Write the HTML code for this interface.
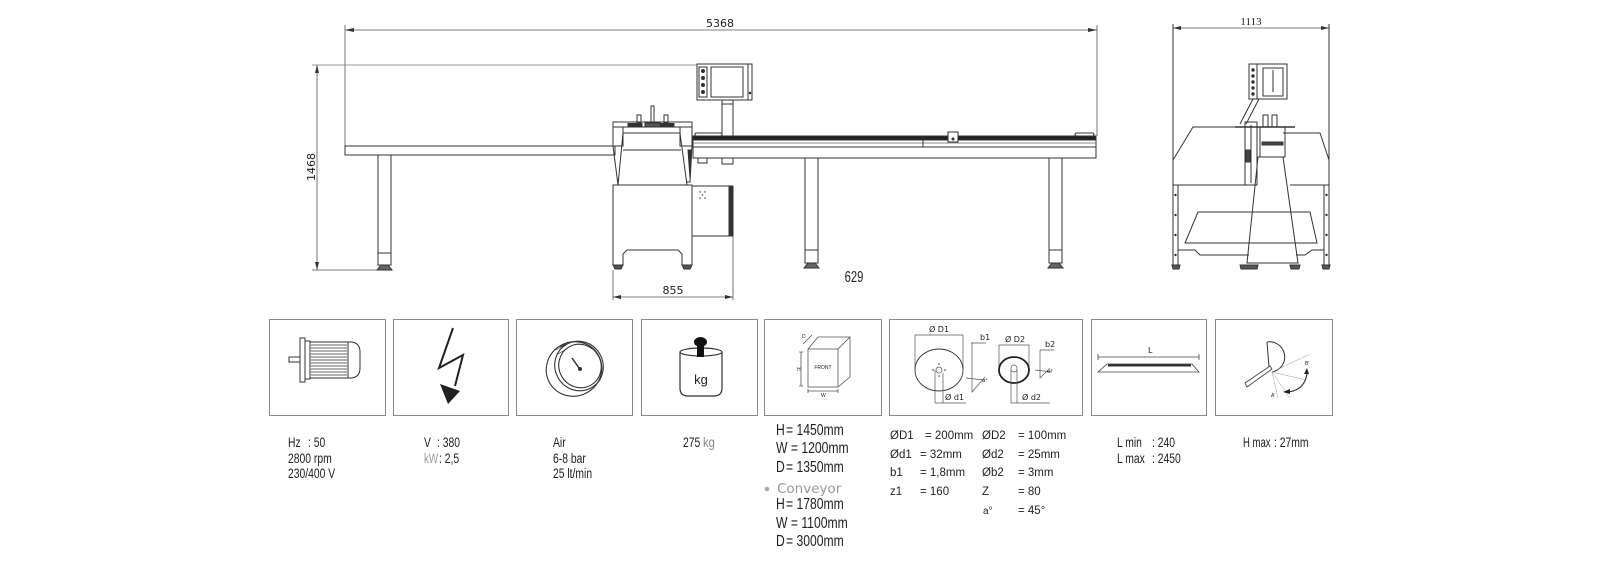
<!DOCTYPE html>
<html><head><meta charset="utf-8"><style>
html,body{margin:0;padding:0;background:#fff;}
svg{display:block;}
text{font-family:"Liberation Sans",sans-serif;fill:#222;}
.dj{font-family:"DejaVu Sans","Liberation Sans",sans-serif;}
</style></head><body>
<svg width="1600" height="576" viewBox="0 0 1600 576" xmlns="http://www.w3.org/2000/svg">
<rect width="1600" height="576" fill="#fff"/>
<g stroke="#333" stroke-width="1" fill="none">
<!-- 5368 dimension -->
<line x1="345" y1="30" x2="1097" y2="30" stroke="#555" stroke-width=".8"/>
<line x1="345" y1="25" x2="345" y2="147" stroke="#555" stroke-width=".8"/>
<line x1="1097" y1="25" x2="1097" y2="136" stroke="#555" stroke-width=".8"/>
<path d="M345,30 l9,-2 v4z M1097,30 l-9,-2 v4z" fill="#333" stroke="none"/>
<!-- 1468 dimension -->
<line x1="317" y1="65" x2="317" y2="270" stroke="#555" stroke-width=".8"/>
<line x1="312" y1="65" x2="697" y2="65" stroke="#777" stroke-width=".7"/>
<line x1="312" y1="270" x2="380" y2="270" stroke="#555" stroke-width=".8"/>
<path d="M317,65 l-2,8 h4z M317,270 l-2,-8 h4z" fill="#333" stroke="none"/>

<!-- left table -->
<rect x="345" y="146" width="270" height="9"/>
<rect x="378" y="155" width="13" height="110"/>
<line x1="378" y1="253" x2="391" y2="253"/>
<path d="M381,265 h7 l4,5 h-15z" fill="#666"/>

<!-- machine front -->
<rect x="613" y="122" width="79" height="5"/>
<rect x="613" y="127" width="10" height="19"/>
<rect x="680" y="127" width="12" height="19"/>
<path d="M623,133 L680,133 L687,185 L618,185 Z"/>
<line x1="623" y1="150" x2="681" y2="150"/>
<path d="M681,146 L692,146 L690,182 L686,182" />
<path d="M688,150 L691,150 L690,178 Z" fill="#333"/>
<path d="M613,146 L618,185"/>
<path d="M613,185 V265 H623 V254 L627,250 H678 L682,254 V265 H692 V185 Z"/>
<path d="M613,265 h10 l-2,4 h-6z M682,265 h10 l-2,4 h-6z" fill="#555"/>
<rect x="637" y="115" width="4" height="8"/>
<rect x="664" y="115" width="4" height="8"/>
<rect x="651" y="106" width="3" height="17"/>
<rect x="628" y="123.5" width="14" height="3" fill="#333"/>
<rect x="660" y="123.5" width="14" height="3" fill="#333"/>
<rect x="645" y="123" width="15" height="4" fill="#555"/>
<!-- motor box -->
<rect x="692" y="186" width="41" height="50"/>
<rect x="729" y="187" width="3" height="49" fill="#333"/>
<g fill="#333" stroke="none"><circle cx="700" cy="192" r=".7"/><circle cx="705" cy="192" r=".7"/><circle cx="702.5" cy="195" r=".7"/><circle cx="700" cy="198" r=".7"/><circle cx="705" cy="198" r=".7"/></g>
<!-- control panel -->
<rect x="697" y="64" width="55" height="36"/>
<rect x="711" y="67" width="32" height="30"/>
<rect x="699" y="67" width="8" height="30"/>
<g fill="#333"><circle cx="703" cy="71" r="1.5"/><circle cx="703" cy="78" r="1.5"/><circle cx="703" cy="85" r="1.5"/><circle cx="703" cy="92" r="1.5"/></g>
<line x1="748" y1="64" x2="748" y2="100"/>
<circle cx="750" cy="93" r=".8" fill="#333"/>
<rect x="722" y="100" width="11" height="37"/>
<line x1="722" y1="104" x2="733" y2="104"/>
<!-- conveyor -->
<rect x="693" y="136" width="403" height="4" fill="#222"/>
<rect x="693" y="140" width="403" height="18"/>
<line x1="693" y1="143" x2="1096" y2="143" stroke="#888"/>
<line x1="693" y1="147" x2="1096" y2="147"/>
<rect x="695" y="133" width="27" height="3" rx="1.5"/>
<rect x="1075" y="133" width="19" height="3" rx="1.5"/>
<rect x="948" y="132" width="10" height="10" fill="#fff"/>
<circle cx="953" cy="139" r="1" fill="#333"/>
<line x1="923" y1="136" x2="923" y2="147"/>
<rect x="698" y="158" width="9" height="5"/>
<rect x="722" y="158" width="11" height="6"/>
<rect x="805" y="158" width="13" height="105"/>
<line x1="805" y1="250" x2="818" y2="250"/>
<path d="M808,263 h7 l4,5 h-15z" fill="#666"/>
<rect x="1049" y="158" width="13" height="105"/>
<line x1="1049" y1="250" x2="1062" y2="250"/>
<path d="M1052,263 h7 l4,5 h-15z" fill="#666"/>
<!-- 855 dimension -->
<line x1="613" y1="297" x2="733" y2="297" stroke="#555" stroke-width=".8"/>
<line x1="613" y1="270" x2="613" y2="300" stroke="#555" stroke-width=".8"/>
<line x1="733" y1="236" x2="733" y2="300" stroke="#555" stroke-width=".8"/>
<path d="M613,297 l8,-2 v4z M733,297 l-8,-2 v4z" fill="#333" stroke="none"/>

<!-- side view -->
<line x1="1173" y1="28" x2="1329" y2="28" stroke="#555" stroke-width=".8"/>
<path d="M1173,28 l8,-2 v4z M1329,28 l-8,-2 v4z" fill="#333" stroke="none"/>
<line x1="1173" y1="24" x2="1173" y2="185"/>
<line x1="1329" y1="24" x2="1329" y2="185"/>
<path d="M1173,185 V160 L1193,127 H1245"/>
<path d="M1283,133 H1320 L1329,160 V185"/>
<line x1="1173" y1="185" x2="1247" y2="185"/>
<line x1="1290" y1="185" x2="1329" y2="185"/>
<rect x="1173" y="185" width="5" height="80"/>
<rect x="1324" y="185" width="5" height="80"/>
<g fill="#333" stroke="none"><circle cx="1175.5" cy="195" r="1.2"/><circle cx="1175.5" cy="215" r="1.2"/><circle cx="1175.5" cy="235" r="1.2"/><circle cx="1175.5" cy="255" r="1.2"/><circle cx="1326.5" cy="195" r="1.2"/><circle cx="1326.5" cy="215" r="1.2"/><circle cx="1326.5" cy="235" r="1.2"/><circle cx="1326.5" cy="255" r="1.2"/></g>
<path d="M1198,212 H1310 L1317,243 H1185 Z"/>
<path d="M1178,250 H1195 L1200,255 H1249"/>
<path d="M1296,255 H1305 L1312,250 H1324"/>
<path d="M1258,157 H1283 L1298,263 H1247 Z"/>
<rect x="1245" y="122" width="12" height="63"/>
<line x1="1251" y1="125" x2="1251" y2="183"/>
<rect x="1246" y="150" width="4" height="12" fill="#444"/>
<rect x="1249" y="64" width="38" height="35"/>
<line x1="1257" y1="64" x2="1257" y2="99"/>
<rect x="1263" y="68" width="20" height="28"/>
<line x1="1273" y1="70" x2="1273" y2="92"/>
<g fill="#333"><circle cx="1253" cy="70" r="1.2"/><circle cx="1253" cy="76" r="1.2"/><circle cx="1253" cy="82" r="1.2"/><circle cx="1253" cy="88" r="1.2"/><circle cx="1253" cy="94" r="1.2"/></g>
<path d="M1253,99 L1240,124 M1259,99 L1246,124"/>
<rect x="1263" y="115" width="5" height="12"/>
<rect x="1272" y="115" width="5" height="12"/>
<line x1="1235" y1="127" x2="1295" y2="127" stroke-width="1.5"/>
<rect x="1260" y="127" width="25" height="30"/>
<rect x="1262" y="142" width="21" height="3" fill="#444"/>
<path d="M1172,265 h8 l-1,4 h-6z M1240,265 h18 l-1,4 h-16z M1290,265 h10 l-1,4 h-8z M1322,265 h8 l-1,4 h-6z" fill="#555"/>
</g>

<!-- dimension labels -->
<text class="dj" x="720" y="27" font-size="11" text-anchor="middle">5368</text>
<text class="dj" transform="translate(315,167) rotate(-90)" font-size="11" text-anchor="middle">1468</text>
<text class="dj" x="673" y="294" font-size="11" text-anchor="middle">855</text>
<text transform="matrix(.7 0 0 1 854 282)" font-size="16" text-anchor="middle">629</text>
<text x="1251" y="25" font-size="11" text-anchor="middle" style="font-family:'Liberation Serif',serif">1113</text>

<!-- spec boxes -->
<g fill="none" stroke="#8a8a8a" stroke-width="1">
<rect x="269.5" y="319.5" width="116" height="96"/>
<rect x="393.5" y="319.5" width="115" height="96"/>
<rect x="516.5" y="319.5" width="116" height="96"/>
<rect x="641.5" y="319.5" width="116" height="96"/>
<rect x="764.5" y="319.5" width="117" height="96"/>
<rect x="889.5" y="319.5" width="193" height="96"/>
<rect x="1091.5" y="319.5" width="115" height="96"/>
<rect x="1215.5" y="319.5" width="117" height="96"/>
</g>

<!-- motor icon -->
<g stroke="#333" stroke-width="1" fill="none">
<rect x="289" y="357" width="11" height="5"/>
<rect x="300" y="338" width="5" height="44"/>
<rect x="305" y="341" width="5" height="38"/>
<path d="M310,342 H350 Q360,342 360,352 V368 Q360,378 350,378 H310 Z"/>
<line x1="348" y1="342" x2="348" y2="378"/>
<path d="M311,345 H347 M311,348 H347 M311,351 H347 M311,354 H347 M311,357 H347 M311,360 H347 M311,363 H347 M311,366 H347 M311,369 H347 M311,372 H347 M311,375 H347" stroke-width=".8"/>
</g>
<!-- lightning -->
<polyline points="453,328 439,368 463,355 455,386" fill="none" stroke="#222" stroke-width="2"/>
<polygon points="440,384 460,391 448,404" fill="#222"/>
<!-- gauge -->
<g fill="none" stroke="#333" stroke-width="1.1">
<ellipse cx="574" cy="369" rx="28" ry="27" transform="rotate(-30 574 369)"/>
<ellipse cx="579" cy="366" rx="24" ry="25" transform="rotate(-30 579 366)"/>
<ellipse cx="580" cy="366" rx="21" ry="22" transform="rotate(-30 580 366)"/>
<path d="M556,350 l10,-6 M558,354 l10,-6 M560,347 l8,-5" stroke-width=".7"/>
<line x1="572" y1="358" x2="579" y2="368" stroke-width="1.5"/>
</g>
<circle cx="580" cy="369" r="2" fill="#333"/>
<!-- kg weight -->
<path d="M680,352 V388 Q680,396 688,396 H714 Q722,396 722,388 V352" fill="none" stroke="#333" stroke-width="1.2"/>
<ellipse cx="701" cy="352" rx="21" ry="4" fill="none" stroke="#333" stroke-width="1.2"/>
<ellipse cx="700.5" cy="342" rx="6.5" ry="5" fill="#111"/>
<rect x="697" y="344" width="7" height="13" fill="#111"/>
<text x="701" y="384" font-size="13" text-anchor="middle">kg</text>
<!-- cube -->
<g fill="none" stroke="#555" stroke-width=".8">
<rect x="808" y="349" width="30" height="38"/>
<path d="M808,349 L818,337 H850 L838,349 M838,387 L850,377 V337"/>
<path d="M801,352 V386 M799,352 h4 M799,386 h4 M808,391 H838 M808,389 v4 M838,389 v4 M803,344 l9,-9"/>
</g>
<text x="823" y="369" font-size="5" text-anchor="middle" fill="#555">FRONT</text>
<text x="797" y="371" font-size="5" fill="#555">H</text>
<text x="821" y="397" font-size="5" fill="#555">W</text>
<text x="802" y="338" font-size="5" fill="#555">D</text>
<!-- saw blades -->
<g fill="none" stroke="#555" stroke-width=".7">
<line x1="915" y1="335" x2="963" y2="335"/>
<line x1="915" y1="335" x2="915" y2="369"/>
<line x1="963" y1="335" x2="963" y2="369"/>
<ellipse cx="939" cy="370" rx="24" ry="21" stroke="#333" stroke-width=".9"/>
<circle cx="939" cy="370" r="3"/>
<path d="M935,370 V403 M943,373 V403 M935,403 H966"/>
<path d="M971,343 H986 M972,343 V392 L985,377 M966,378 L984,380"/>
<line x1="999" y1="345" x2="1029" y2="345"/>
<line x1="999" y1="345" x2="999" y2="370"/>
<line x1="1029" y1="345" x2="1029" y2="370"/>
<ellipse cx="1014" cy="370" rx="15" ry="13" stroke="#222" stroke-width="1.8"/>
<rect x="1011" y="365" width="6" height="7" rx="3"/>
<path d="M1011,370 V403 M1017,370 V403 M1011,403 H1050"/>
<path d="M1040,350 H1054 M1040,350 V378 L1050,368 M1035,370 L1052,372"/>
</g>
<g fill="#333"><circle cx="933" cy="370" r=".8"/><circle cx="945" cy="370" r=".8"/><circle cx="939" cy="364" r=".8"/><circle cx="939" cy="376" r=".8"/></g>
<g class="dj" font-size="8" fill="#333">
<text x="939" y="332" text-anchor="middle" class="dj">Ø D1</text>
<text x="980" y="340" class="dj">b1</text>
<text x="945" y="400" class="dj">Ø d1</text>
<text x="1015" y="342" text-anchor="middle" class="dj">Ø D2</text>
<text x="1045" y="347" class="dj">b2</text>
<text x="1022" y="400" class="dj">Ø d2</text>
<text x="982" y="382" font-size="5" class="dj">α°</text>
<text x="1047" y="373" font-size="5" class="dj">α°</text>
</g>
<!-- length profile -->
<g stroke="#444" stroke-width=".8" fill="none">
<line x1="1098" y1="357" x2="1199" y2="357"/>
<path d="M1098,354 v6 M1199,354 v6"/>
<polygon points="1107,364 1192,364 1199,372 1098,372"/>
</g>
<rect x="1108" y="364" width="83" height="2.5" fill="#333"/>
<text x="1148" y="353" font-size="8" class="dj" fill="#333">L</text>
<!-- angle icon -->
<g stroke="#333" stroke-width="1" fill="none">
<path d="M1267,342 A15,15 0 0 1 1272,372"/>
<line x1="1267" y1="342" x2="1269" y2="367"/>
<polygon points="1245,383 1270,366 1272,369 1247,387" stroke-width=".8"/>
<path d="M1272,372 L1310,354 M1272,372 L1306,380 M1272,372 L1290,398 M1272,372 L1278,398" stroke="#999" stroke-width=".5"/>
<path d="M1288,392 Q1305,390 1307,373" stroke-width="1.1"/>
</g>
<path d="M1283,392 l7,-3 l0,5z M1307,368 l-3,6 l5,0z" fill="#222"/>
<text x="1271" y="397" font-size="5" fill="#333">A'</text>
<text x="1305" y="365" font-size="5" fill="#333">B'</text>

<!-- spec texts (condensed) -->
<g font-size="14">
<text transform="matrix(.74 0 0 1 288 447)">Hz</text>
<text transform="matrix(.74 0 0 1 308 447)">: 50</text>
<text transform="matrix(.74 0 0 1 288 463)">2800 rpm</text>
<text transform="matrix(.74 0 0 1 288 478)">230/400 V</text>

<text transform="matrix(.74 0 0 1 424 447)">V</text>
<text transform="matrix(.74 0 0 1 437 447)">: 380</text>
<text transform="matrix(.7 0 0 1 424 463)" style="fill:#999">kW</text>
<text transform="matrix(.74 0 0 1 439 463)">: 2,5</text>

<text transform="matrix(.74 0 0 1 553 447)">Air</text>
<text transform="matrix(.74 0 0 1 553 463)">6-8 bar</text>
<text transform="matrix(.74 0 0 1 553 478)">25 lt/min</text>

<text transform="matrix(.74 0 0 1 683 447)">275</text>
<text transform="matrix(.8 0 0 1 703 447)" style="fill:#888">kg</text>

<text transform="matrix(.74 0 0 1 1117 447)">L min</text>
<text transform="matrix(.74 0 0 1 1152 447)">: 240</text>
<text transform="matrix(.74 0 0 1 1117 463)">L max</text>
<text transform="matrix(.74 0 0 1 1152 463)">: 2450</text>

<text transform="matrix(.68 0 0 1 1243 447)">H max</text>
<text transform="matrix(.74 0 0 1 1274 447)">: 27mm</text>
</g>
<g font-size="16">
<text transform="matrix(.76 0 0 1 776 435)">H</text>
<text transform="matrix(.76 0 0 1 786 435)">= 1450mm</text>
<text transform="matrix(.76 0 0 1 776 453)">W = 1200mm</text>
<text transform="matrix(.76 0 0 1 776 472)">D</text>
<text transform="matrix(.76 0 0 1 786 472)">= 1350mm</text>
<text transform="matrix(.76 0 0 1 776 509)">H</text>
<text transform="matrix(.76 0 0 1 786 509)">= 1780mm</text>
<text transform="matrix(.76 0 0 1 776 528)">W = 1100mm</text>
<text transform="matrix(.76 0 0 1 776 546)">D</text>
<text transform="matrix(.76 0 0 1 786 546)">= 3000mm</text>
</g>
<circle cx="767" cy="489" r="2.3" fill="#aaa"/>
<text class="dj" x="777" y="493" font-size="13.5" style="fill:#999">Conveyor</text>

<g font-size="11.5">
<text x="890" y="439">ØD1</text><text x="925" y="439">= 200mm</text>
<text x="890" y="458">Ød1</text><text x="920" y="458">= 32mm</text>
<text x="890" y="476">b1</text><text x="920" y="476">= 1,8mm</text>
<text x="890" y="495">z1</text><text x="920" y="495">= 160</text>
<text x="982" y="439">ØD2</text><text x="1018" y="439">= 100mm</text>
<text x="982" y="458">Ød2</text><text x="1018" y="458">= 25mm</text>
<text x="982" y="476">Øb2</text><text x="1018" y="476">= 3mm</text>
<text x="982" y="495">Z</text><text x="1018" y="495">= 80</text>
<text x="983" y="514" font-size="10">a°</text><text x="1018" y="514">= 45°</text>
</g>
</svg>
</body></html>
